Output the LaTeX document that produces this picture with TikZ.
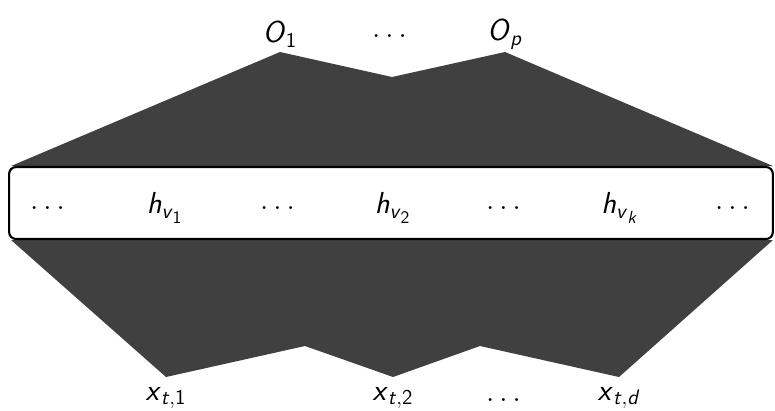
\documentclass[tikz,border=0pt]{standalone}
\usepackage{amsmath}
\usepackage{tikz}
\usetikzlibrary{positioning, calc}

\newcommand{\svar}[1]{\textsf{\textit{#1}}}
\newcommand{\snum}[1]{\textsf{#1}}

\begin{document}
\begin{tikzpicture}[
  x=0.02cm, y=-0.02cm,
  fan/.style={fill=black!75, draw=none},
  hidden/.style={rectangle, draw, line width=1.2pt, rounded corners=4pt, fill=white, minimum width=15.28cm, minimum height=1.44cm},
  lbl/.style={font=\LARGE\sffamily},
]
\useasboundingbox (0,0) rectangle (775,410);

% output units
\node[lbl] (o1) at (280,34) {$\svar{O}_{\snum{1}}$};
\node[lbl] (odots) at (392,36) {$\dots$};
\node[lbl] (op) at (505,34) {$\svar{O}_{\svar{p}}$};

% input units
\node[lbl] (x1) at (166,398) {$\svar{x}_{\svar{t},\snum{1}}$};
\node[lbl] (x2) at (393,398) {$\svar{x}_{\svar{t},\snum{2}}$};
\node[lbl] (xdots) at (506,400) {$\dots$};
\node[lbl] (xd) at (619,398) {$\svar{x}_{\svar{t},\svar{d}}$};

% fans
\coordinate (o1tip) at (280,52);
\coordinate (optip) at (505,52);
\coordinate (x1tip) at (166,377);
\coordinate (x2tip) at (393,377);
\coordinate (xdtip) at (619,377);

\fill[fan] (11,166) -- (o1tip) -- (392,77) -- (optip) -- (773,166) -- cycle;
\fill[fan] (11,240) -- (x1tip) -- (305,346) -- (x2tip) -- (480,346) -- (xdtip) -- (773,240) -- cycle;

% hidden layer
\node[hidden] (h) at (391,203) {};
\foreach \px/\txt in {50/\dots, 165/\svar{h}_{\svar{v}_{\snum{1}}}, 280/\dots, 393/\svar{h}_{\svar{v}_{\snum{2}}}, 506/\dots, 620/\svar{h}_{\svar{v}_{\svar{k}}}, 735/\dots}
  \node[lbl] at (\px,208) {$\txt$};
\end{tikzpicture}
\end{document}
